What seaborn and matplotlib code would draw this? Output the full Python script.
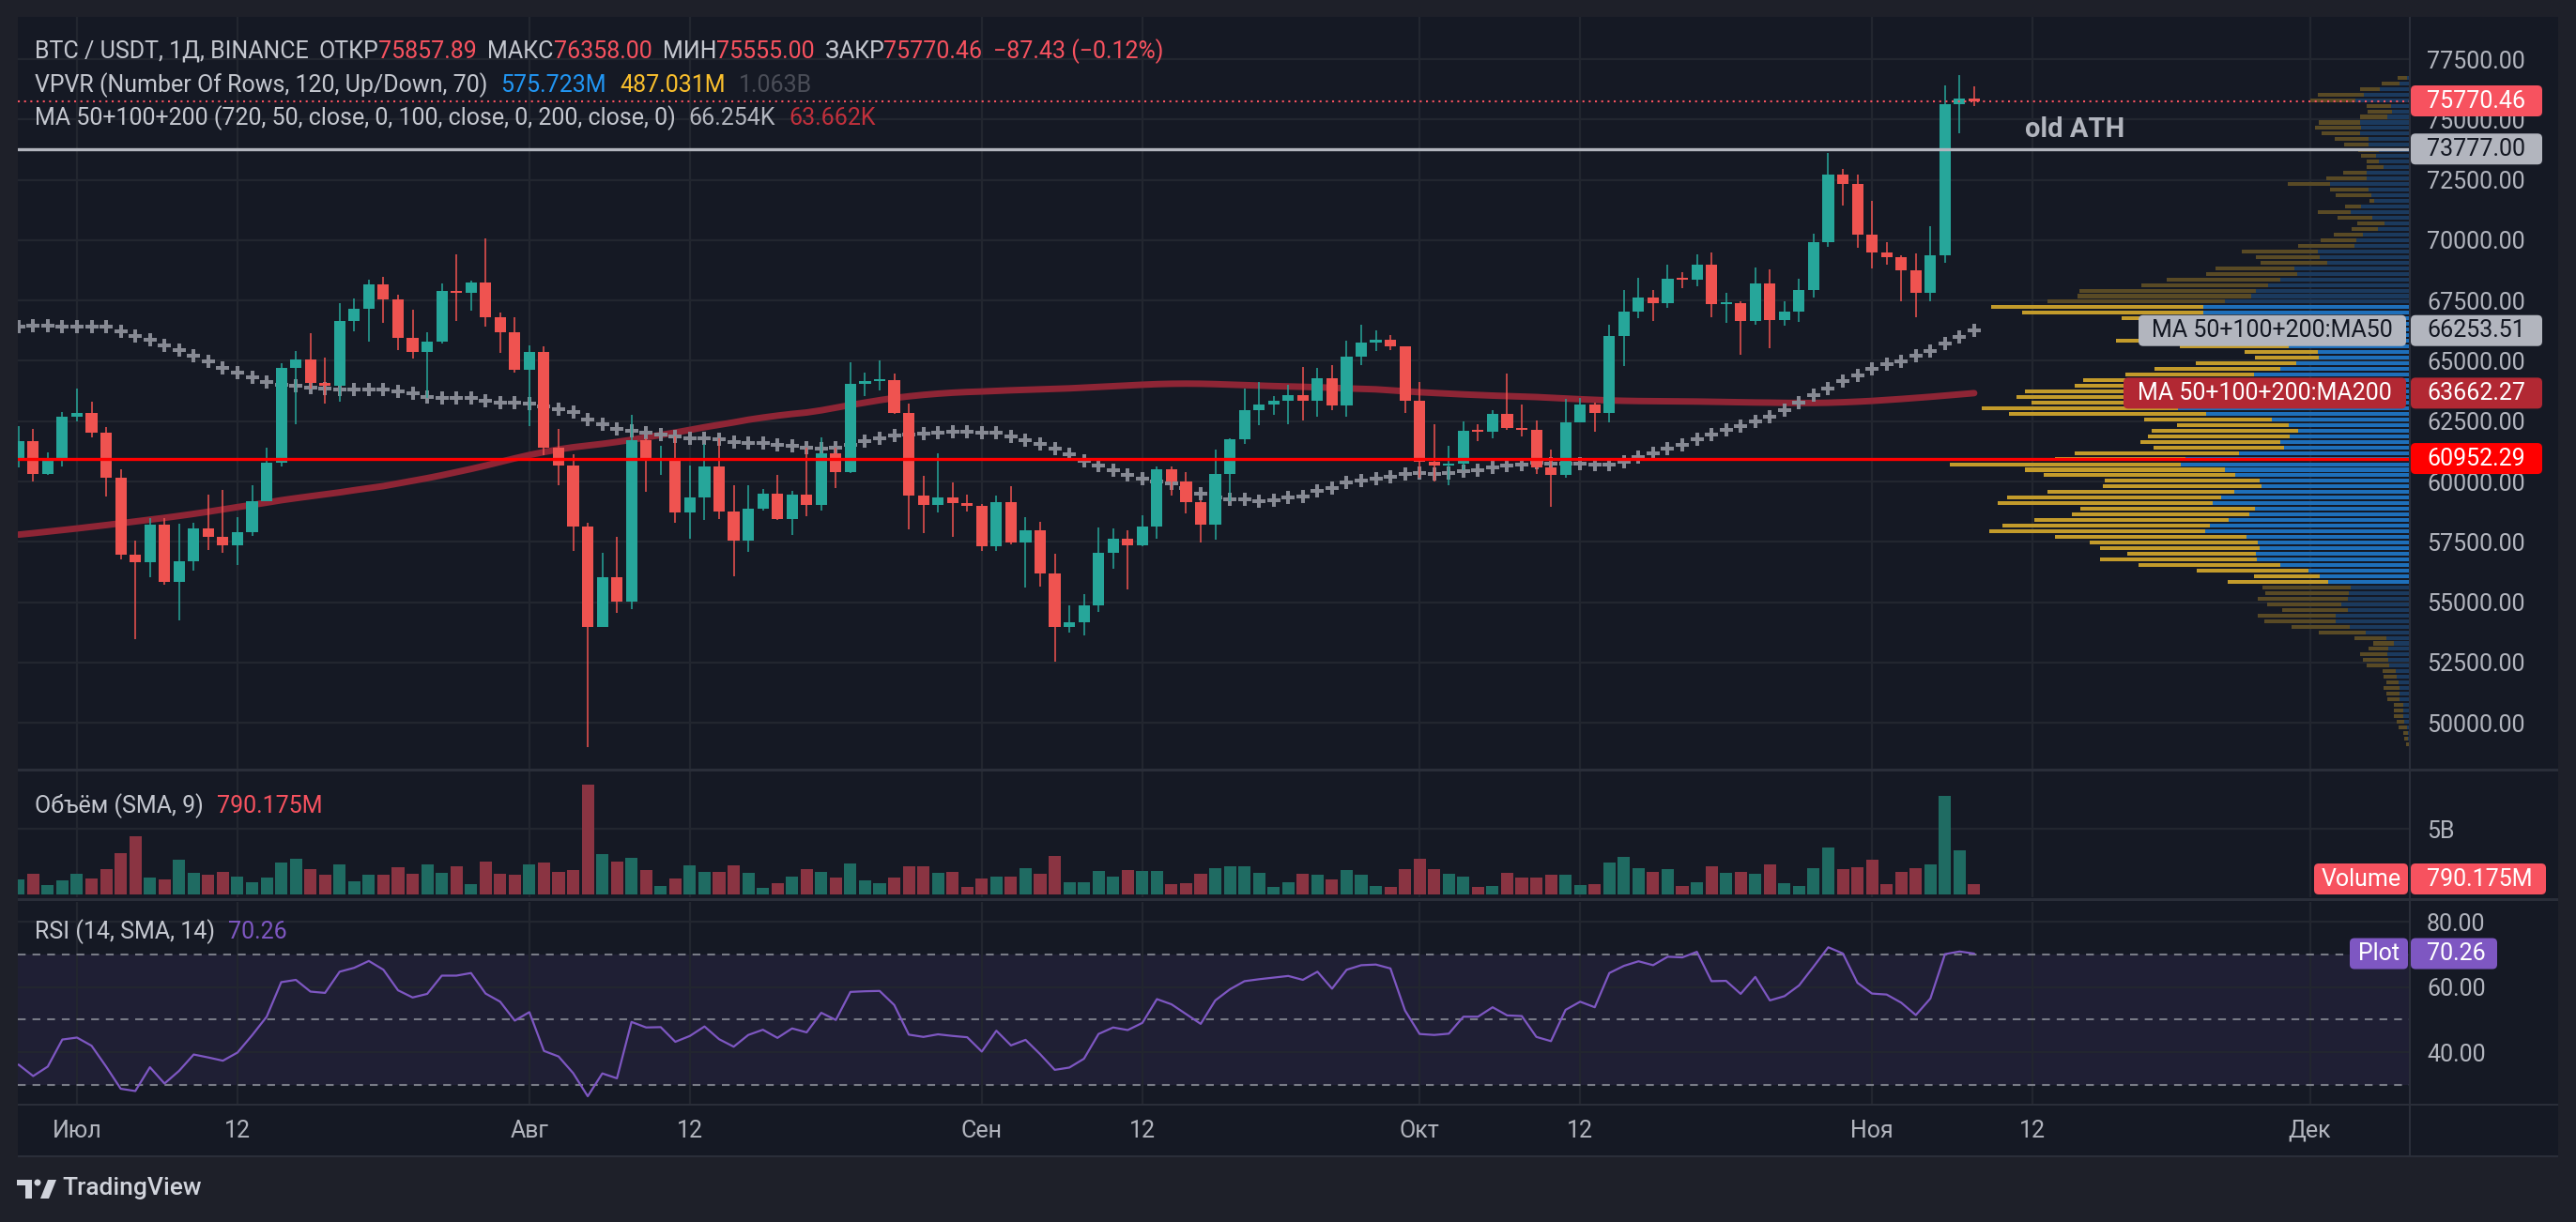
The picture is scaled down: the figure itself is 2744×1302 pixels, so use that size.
import numpy as np
import pandas as pd
import matplotlib
matplotlib.use("Agg")
import matplotlib.pyplot as plt
import seaborn as sns
from matplotlib.patches import FancyBboxPatch, Rectangle, Circle, Polygon
from matplotlib.transforms import IdentityTransform

# ---------------- data (BTC/USDT daily, 27 Jun - 8 Nov 2024) ----------------
dates = pd.date_range("2024-06-27", "2024-11-08", freq="D")

open_ = [60842, 61677, 60320, 60887,
         62678, 62851, 62029, 60173, 56977, 56639, 58231, 55857, 56714, 58050, 57725, 57339, 57889, 59204, 60797, 64724,
         65043, 64087, 63987, 66660, 67139, 68165, 67532, 65936, 65372, 65777, 67912, 67813, 68255, 66819, 66201,
         64619, 65357, 61415, 60680, 58116, 53991, 56034, 55027, 61710, 60880, 60945, 58719, 59354, 60609, 58738,
         57560, 58874, 59491, 58427, 59438, 59013, 61156, 60375, 64037, 64157, 64220, 62834, 59415, 59034, 59359, 59123,
         58973, 57301, 59132, 57487, 57970, 56180, 53962, 54160, 54869, 57042, 57635, 57338, 58132, 60498, 59993,
         59132, 58213, 60309, 61759, 62947, 63201, 63348, 63578, 63339, 64262, 63152, 65173, 65769, 65858, 65602,
         63327, 60805, 60649, 60752, 62086, 62058, 62819, 62224, 62131, 60582, 60274, 62445, 63193, 62851, 66046,
         67042, 67612, 67399, 68418, 68362, 69001, 67367, 67380, 66653, 68198, 66698, 67041, 67938, 69907, 72720, 72339,
         70216, 69482, 69289, 68742, 67811, 69359, 75639, 75857.89]
high = [62293, 62173, 61226, 62892,
        63862, 63288, 62272, 60498, 57546, 58475, 58475, 58236, 58296, 59470, 59650, 58526, 59850, 61420, 64900, 65388,
        66128, 65133, 67386, 67598, 68366, 68474, 67750, 67102, 66175, 68200, 69399, 68318, 70079, 66987, 66810,
        65659, 65596, 62198, 61117, 58305, 57059, 57726, 62745, 61800, 61464, 61858, 60680, 61572, 61800, 59849,
        59850, 59700, 60284, 59617, 61400, 61820, 61400, 64955, 64494, 65000, 64481, 63212, 60234, 61166, 59944, 59462,
        59054, 59425, 59809, 58519, 58327, 57008, 54850, 55318, 58088, 58044, 57981, 58588, 60625, 60610, 60395,
        59210, 61320, 61786, 63850, 64133, 63559, 64000, 64745, 64688, 64817, 65839, 66498, 66260, 66076, 65618,
        64130, 62390, 61477, 62484, 62370, 62975, 64478, 63200, 62543, 61320, 63417, 63480, 63285, 66500, 67950,
        68424, 67939, 68969, 68668, 69400, 69500, 67836, 67451, 68850, 68771, 67454, 68388, 70270, 73620, 72961, 72700,
        71632, 69914, 69390, 69432, 70577, 76400, 76849, 76358]
low = [60585, 60000, 60267, 60632,
       62497, 61818, 59386, 56771, 53485, 56018, 55724, 54260, 56289, 57157, 57050, 56542, 57756, 59194, 60632, 62373,
       63854, 63238, 63300, 66222, 65777, 66559, 65441, 65111, 63456, 65722, 66640, 67066, 66428, 65323, 64532,
       62302, 61100, 59850, 57122, 49000, 53973, 54558, 54730, 59575, 60288, 58286, 57642, 58400, 58433, 56078,
       57098, 58785, 58408, 57787, 58548, 58783, 59724, 60342, 63531, 63773, 62800, 58034, 57860, 58713, 57701, 58744,
       57118, 57128, 57415, 55606, 55643, 52550, 53745, 53629, 54591, 56386, 55545, 57324, 57632, 59400, 58691,
       57493, 57610, 59175, 61555, 62350, 62758, 62357, 62538, 62700, 62947, 62670, 64819, 65422, 65432, 62856,
       60164, 60000, 59828, 60459, 61689, 61798, 62128, 61860, 60300, 58946, 60155, 62445, 62050, 62442, 64800,
       66750, 66666, 67177, 68020, 68100, 66800, 66571, 65260, 66510, 65521, 66439, 66600, 67618, 69730, 71436, 69685,
       68820, 69000, 67478, 66803, 67458, 69050, 74416, 75555]
close = [61677, 60320, 60887, 62678,
         62851, 62029, 60173, 56977, 56639, 58231, 55857, 56714, 58050, 57725, 57339, 57889, 59204, 60797, 64724, 65043,
         64087, 63987, 66660, 67139, 68165, 67532, 65936, 65372, 65777, 67912, 67813, 68255, 66819, 66201, 64619,
         65357, 61415, 60680, 58116, 53991, 56034, 55027, 61710, 60880, 60945, 58719, 59354, 60609, 58738, 57560,
         58874, 59491, 58427, 59438, 59013, 61156, 60375, 64037, 64157, 64220, 62834, 59415, 59034, 59359, 59123, 58973,
         57301, 59132, 57487, 57970, 56180, 53962, 54160, 54869, 57042, 57635, 57338, 58132, 60498, 59993, 59132,
         58213, 60309, 61759, 62947, 63201, 63348, 63578, 63339, 64262, 63152, 65173, 65769, 65858, 65602, 63327,
         60805, 60649, 60752, 62086, 62058, 62819, 62224, 62131, 60582, 60274, 62445, 63193, 62851, 66046, 67042,
         67612, 67399, 68418, 68362, 69001, 67367, 67380, 66653, 68198, 66698, 67041, 67938, 69907, 72720, 72339, 70216,
         69482, 69289, 68742, 67811, 69359, 75639, 75857.89, 75770.46]

# volume, billions USDT
volume_b = [1.19, 1.60, 0.74, 1.10,
            1.60, 1.24, 1.95, 3.17, 4.45, 1.31, 1.17, 2.67, 1.67, 1.52, 1.74, 1.38, 0.95, 1.31, 2.45, 2.74,
            1.95, 1.52, 2.31, 1.02, 1.52, 1.52, 2.10, 1.60, 2.31, 1.67, 2.17, 0.81, 2.52, 1.60, 1.52,
            2.31, 2.45, 1.74, 1.88, 8.38, 3.10, 2.52, 2.81, 1.88, 0.67, 1.24, 2.24, 1.74, 1.74, 2.24,
            1.67, 0.52, 0.88, 1.38, 1.95, 1.74, 1.31, 2.38, 1.10, 0.88, 1.31, 2.17, 2.17, 1.67, 1.74, 0.60,
            1.24, 1.38, 1.38, 2.02, 1.60, 2.95, 0.95, 0.95, 1.81, 1.38, 1.88, 1.81, 1.81, 0.81, 0.88,
            1.60, 2.02, 2.17, 2.17, 1.67, 0.60, 0.95, 1.60, 1.52, 1.17, 1.88, 1.52, 0.67, 0.60, 1.95,
            2.74, 1.95, 1.60, 1.38, 0.60, 0.67, 1.67, 1.31, 1.31, 1.52, 1.52, 0.74, 0.81, 2.45, 2.88,
            2.02, 1.74, 1.95, 0.67, 0.95, 2.17, 1.67, 1.74, 1.60, 2.31, 0.88, 0.67, 2.02, 3.60, 1.95, 2.10,
            2.67, 0.81, 1.74, 2.02, 2.31, 7.52, 3.38, 0.79]

ma50 = [66435, 66440, 66440, 66435,
        66435, 66430, 66409, 66240, 66045, 65890, 65656, 65461, 65201, 64968, 64721, 64526, 64331, 64136, 63993, 63968,
        63903, 63864, 63812, 63799, 63799, 63799, 63747, 63643, 63513, 63474, 63448, 63448, 63357, 63270, 63260,
        63240, 63125, 63008, 62864, 62578, 62370, 62187, 62096, 62031, 61953, 61875, 61797, 61797, 61745, 61628,
        61588, 61588, 61510, 61471, 61406, 61367, 61406, 61536, 61666, 61797, 61901, 61953, 61980, 62020, 62059, 62059,
        62020, 62020, 61852, 61696, 61554, 61360, 61140, 60855, 60648, 60466, 60272, 60104, 60020, 59909, 59715,
        59495, 59353, 59262, 59262, 59171, 59223, 59327, 59378, 59612, 59715, 59974, 60039, 60130, 60215, 60305,
        60340, 60326, 60352, 60430, 60482, 60587, 60652, 60717, 60782, 60756, 60756, 60743, 60717, 60717, 60821,
        61004, 61173, 61368, 61524, 61759, 61954, 62123, 62279, 62500, 62696, 62956, 63256, 63581, 63868, 64167, 64402,
        64649, 64844, 64988, 65209, 65404, 65704, 65990, 66254]

ma200 = [57800, 57860, 57925, 57990,
         58055, 58125, 58195, 58270, 58345, 58420, 58495, 58575, 58660, 58750, 58845, 58940, 59030, 59125, 59225, 59310,
         59390, 59470, 59550, 59640, 59725, 59810, 59920, 60030, 60140, 60260, 60390, 60520, 60660, 60810, 60960,
         61100, 61220, 61330, 61420, 61490, 61560, 61640, 61730, 61830, 61930, 62030, 62140, 62250, 62350, 62450,
         62560, 62650, 62730, 62800, 62860, 62950, 63060, 63170, 63270, 63370, 63460, 63530, 63590, 63640, 63680, 63710,
         63730, 63755, 63780, 63800, 63820, 63840, 63860, 63890, 63920, 63950, 63980, 64010, 64035, 64050, 64055,
         64050, 64035, 64015, 63995, 63975, 63955, 63940, 63925, 63905, 63885, 63860, 63840, 63820, 63780, 63740,
         63700, 63670, 63640, 63610, 63585, 63560, 63540, 63520, 63500, 63470, 63440, 63410, 63385, 63360, 63345,
         63335, 63330, 63325, 63320, 63315, 63305, 63295, 63285, 63275, 63270, 63260, 63255, 63255, 63265, 63285, 63310,
         63340, 63380, 63420, 63465, 63510, 63560, 63610, 63662.27]

rsi = [36.2, 32.7, 35.6, 43.9,
       44.5, 42.0, 35.6, 28.8, 28.1, 35.4, 30.4, 34.3, 39.3, 38.4, 37.4, 39.9, 45.2, 50.9, 61.5, 62.2,
       58.6, 58.2, 64.7, 65.9, 68.0, 65.3, 59.0, 56.8, 57.9, 63.5, 63.5, 64.3, 58.0, 55.5, 49.7,
       52.3, 40.4, 38.7, 33.6, 26.5, 33.5, 32.0, 49.3, 47.6, 47.7, 43.2, 45.0, 47.9, 44.0, 41.7,
       45.3, 46.9, 44.4, 47.3, 46.1, 52.1, 49.9, 58.5, 58.7, 58.8, 54.5, 45.4, 44.7, 45.5, 45.0, 44.6,
       40.2, 46.6, 42.1, 43.8, 39.4, 34.6, 35.3, 38.0, 45.6, 47.6, 46.8, 49.0, 56.3, 54.7, 51.7,
       48.7, 55.9, 59.3, 61.8, 62.4, 62.9, 63.4, 62.2, 64.7, 59.5, 65.3, 66.7, 66.9, 65.7, 52.8,
       45.6, 45.3, 45.7, 50.9, 50.9, 53.8, 51.3, 51.1, 44.7, 43.4, 53.0, 55.5, 53.8, 64.3, 66.5,
       67.9, 66.7, 69.3, 69.1, 70.8, 61.8, 61.9, 57.9, 63.1, 55.9, 57.2, 60.5, 66.3, 72.2, 70.3, 61.3,
       58.0, 57.7, 55.2, 51.4, 56.5, 70.1, 70.9, 70.26]

# visible-range volume profile, 120 rows, highest price row first (millions USDT)
vp_up = [35, 109, 319, 494, 575.7, 197, 188, 240, 533, 524,
         533, 437, 445, 328, 358, 328, 284, 459, 459, 852,
         437, 415, 384, 524, 633, 402, 271, 341, 502, 568,
         590, 983, 961, 882, 1232, 1201, 1376, 1507, 1638, 1690,
         1974, 2205, 2205, 2030, 1943, 1681, 1769, 2030, 1288, 983,
         969, 1214, 1376, 1659, 2120, 2030, 2293, 2293, 2249, 2467,
         2170, 1472, 1288, 1188, 1280, 1384, 1345, 1825, 2389, 2437,
         1974, 1865, 1603, 1585, 1873, 2009, 2105, 1655, 1712, 1935,
         2131, 2184, 1742, 1616, 1603, 1638, 1633, 1384, 1083, 961,
         873, 633, 646, 664, 734, 664, 786, 795, 642, 467,
         253, 175, 231, 240, 227, 218, 153, 140, 118, 109,
         109, 109, 66, 74, 66, 57, 35, 22, 22, 13]
vp_down = [96, 188, 214, 489, 487.0, 262, 258, 293, 437, 489,
           406, 362, 253, 218, 166, 131, 175, 249, 428, 450,
           415, 371, 44, 166, 349, 371, 288, 284, 306, 380,
           598, 808, 677, 712, 843, 969, 1214, 1354, 1887, 1847,
           1891, 2253, 1921, 1044, 699, 786, 786, 1105, 1162, 773,
           681, 1066, 1349, 1367, 1358, 1537, 1812, 1900, 1777, 2092,
           2096, 1354, 1188, 1559, 1515, 1489, 1384, 1742, 1389, 2459,
           2122, 2039, 1651, 1681, 1987, 2280, 2284, 1860, 1891, 2070,
           2205, 2301, 2035, 1799, 1694, 1376, 1664, 1511, 1183, 703,
           1070, 939, 895, 961, 782, 699, 830, 755, 620, 502,
           336, 218, 205, 293, 275, 240, 140, 144, 131, 175,
           144, 131, 100, 100, 105, 87, 87, 44, 35, 31]

tick_dates = ["2024-07-01", "2024-07-12", "2024-08-01", "2024-08-12", "2024-09-01", "2024-09-12",
              "2024-10-01", "2024-10-12", "2024-11-01", "2024-11-12", "2024-12-01"]
tick_labels = ["Июл", "12", "Авг", "12", "Сен", "12", "Окт", "12", "Ноя", "12", "Дек"]
price_ticks = list(range(50000, 77501, 2500))

support_level = 60952.29
old_ath = 73777.00

# ---------------- style ----------------
W, H = 2744, 1302
BG = "#151924"
OUTER = "#1e2029"
SEP = "#2a2e39"
GRID = "#22262f"
AXTXT = "#b2b5be"
LEG = "#c4c7cf"
UP, DN = "#26a69a", "#ef5350"
FS = 18

sns.set_theme(style="dark", rc={"axes.facecolor": BG, "figure.facecolor": OUTER})
plt.rcParams["font.family"] = ["Roboto", "DejaVu Sans"]

fig = plt.figure(figsize=(W / 100, H / 100), dpi=100, facecolor=OUTER)
PX = IdentityTransform()


def px_axes(left, top, right, bottom):
    return fig.add_axes([left / W, 1 - bottom / H, (right - left) / W, (bottom - top) / H])


def px_rect(left, top, right, bottom, color, z=1):
    fig.add_artist(Rectangle((left, H - bottom), right - left, bottom - top, transform=PX,
                             facecolor=color, edgecolor="none", zorder=z))


px_rect(19, 18, 2725, 1232, BG, z=-10)
ax = px_axes(19, 18, 2567, 819)
axv = px_axes(19, 822, 2567, 956)
axr = px_axes(19, 961, 2567, 1176)
axt = px_axes(19, 1178, 2567, 1231)

idx = np.arange(len(dates))
XLIM = (-0.05, 163.85)
tick_idx = [(pd.Timestamp(d) - dates[0]).days for d in tick_dates]

for a in (ax, axv, axr, axt):
    a.set_facecolor(BG)
    for sp in a.spines.values():
        sp.set_visible(False)
    a.set_xlim(*XLIM)
    a.set_axisbelow(True)
    a.yaxis.tick_right()
    a.set_xticks(tick_idx)
    a.tick_params(axis="x", length=0, labelbottom=False)
    a.tick_params(axis="y", length=0, pad=13, labelsize=FS, labelcolor=AXTXT)
for a in (ax, axv, axr):
    a.grid(True, color=GRID, linewidth=1.6)

# ---------------- price pane ----------------
o, h, l, c = map(np.asarray, (open_, high, low, close))
rising = c >= o
cols = np.where(rising, UP, DN)

ax.set_ylim(48102, 79251)
ax.set_yticks(price_ticks)
ax.set_yticklabels([f"{v:.2f}" for v in price_ticks])

sns.lineplot(x=idx, y=ma200, ax=ax, color="#8e2535", linewidth=5, zorder=2,
             legend=False, solid_capstyle="round")
sns.scatterplot(x=idx, y=ma50, ax=ax, marker="P", s=90, color="#868993",
                linewidth=0, zorder=3, legend=False)
ax.vlines(idx, l, h, colors=cols, linewidth=1.1, zorder=4)
ax.bar(idx, np.maximum(np.abs(c - o), 70), bottom=np.minimum(o, c), width=0.78,
       color=cols, linewidth=0, zorder=5)
ax.set_xlabel("")
ax.set_ylabel("")
ax.set_xlim(*XLIM)

ax.text(140.9, 74590, "old ATH", ha="center", va="center", fontsize=21,
        fontweight="bold", color=AXTXT, zorder=6)

# volume profile (visible range)
axp = ax.twiny()
up_v, dn_v = np.asarray(vp_up), np.asarray(vp_down)
tot = up_v + dn_v
n_rows = len(tot)
top, bot = h.max(), l.min()
step = (top - bot) / n_rows
centers = top - (np.arange(n_rows) + 0.5) * step
poc = int(np.argmax(tot))
lo_i = hi_i = poc
acc = tot[poc]
while acc < 0.70 * tot.sum():
    nxt_hi = tot[hi_i + 1] if hi_i + 1 < n_rows else -1
    nxt_lo = tot[lo_i - 1] if lo_i > 0 else -1
    if nxt_hi >= nxt_lo:
        hi_i += 1
        acc += nxt_hi
    else:
        lo_i -= 1
        acc += nxt_lo
in_va = (np.arange(n_rows) >= lo_i) & (np.arange(n_rows) <= hi_i)
axp.barh(centers, up_v, height=step * 0.68, left=0,
         color=np.where(in_va, "#1e6fba", "#1b3a5e"), linewidth=0, zorder=1)
axp.barh(centers, dn_v, height=step * 0.68, left=up_v,
         color=np.where(in_va, "#c39b2b", "#594a25"), linewidth=0, zorder=1)
axp.set_xlim(25480, 0)
axp.set_xticks([])
for sp in axp.spines.values():
    sp.set_visible(False)
axp.axhline(support_level, color="#ff0000", linewidth=2.4, zorder=6)
axp.axhline(old_ath, color="#b2b5be", linewidth=2.4, zorder=6)
axp.axhline(close[-1], color="#f7525f", linewidth=1.5, linestyle=(0, (1, 2.2)), zorder=6)

# ---------------- volume pane ----------------
axv.bar(idx, volume_b, width=0.84, color=np.where(rising, "#1f6b62", "#8a3442"), linewidth=0)
axv.set_ylim(-0.19, 9.38)
axv.set_yticks([5])
axv.set_yticklabels(["5B"])
axv.set_xlim(*XLIM)

# ---------------- RSI pane ----------------
axr.axhspan(30, 70, color="#7e57c2", alpha=0.1, linewidth=0, zorder=0)
for lv in (70, 50, 30):
    axr.axhline(lv, color="#787b86", linewidth=1.5, linestyle=(0, (4, 3.5)), zorder=1)
sns.lineplot(x=idx, y=rsi, ax=axr, color="#7e57c2", linewidth=1.6, legend=False, zorder=3)
axr.set_ylim(24.2, 86.1)
axr.set_yticks([40, 60, 80])
axr.set_yticklabels(["40.00", "60.00", "80.00"])
axr.set_xlabel("")
axr.set_ylabel("")
axr.set_xlim(*XLIM)

# ---------------- time axis ----------------
axt.set_yticks([])
for ti, lab in zip(tick_idx, tick_labels):
    axt.text(ti, 0.5, lab, transform=axt.get_xaxis_transform(), ha="center", va="center",
             fontsize=FS, color=AXTXT)

# pane separators
px_rect(2566, 18, 2568, 1232, SEP)
px_rect(19, 819, 2725, 822, SEP)
px_rect(19, 957, 2725, 960, SEP)
px_rect(19, 1176, 2725, 1178, SEP)
px_rect(19, 1231, 2725, 1233, SEP)

# ---------------- legends ----------------
renderer = fig.canvas.get_renderer()


def text_run(x, y, parts, size=FS):
    for txt, color, gap in parts:
        t = fig.text(x, H - y, txt, color=color, fontsize=size, ha="left", va="center",
                     transform=PX, zorder=4)
        x = t.get_window_extent(renderer=renderer).x1 + gap


RED = "#f7525f"
text_run(37, 55, [("BTC / USDT, 1Д, BINANCE", LEG, 11), ("ОТКР", LEG, 0), (f"{open_[-1]:.2f}", RED, 11),
                  ("МАКС", LEG, 0), (f"{high[-1]:.2f}", RED, 11), ("МИН", LEG, 0), (f"{low[-1]:.2f}", RED, 11),
                  ("ЗАКР", LEG, 0), (f"{close[-1]:.2f}", RED, 11),
                  ("\u221287.43 (\u22120.12%)", RED, 0)])
text_run(37, 91, [("VPVR (Number Of Rows, 120, Up/Down, 70)", LEG, 14), ("575.723M", "#2196f3", 14),
                  ("487.031M", "#fbc02d", 14), ("1.063B", "#4a4d57", 0)])
text_run(37, 126, [("MA 50+100+200 (720, 50, close, 0, 100, close, 0, 200, close, 0)", LEG, 14),
                   ("66.254K", AXTXT, 14), ("63.662K", "#c0303c", 0)])
text_run(37, 859, [("Объём (SMA, 9)", LEG, 14), ("790.175M", RED, 0)])
text_run(37, 993, [("RSI (14, SMA, 14)", LEG, 14), ("70.26", "#7e57c2", 0)])


# ---------------- axis tags ----------------
def tag(x0, x1, yc, label, bg, fg, centered=False, hh=33):
    fig.add_artist(FancyBboxPatch((x0, yc - hh / 2), x1 - x0, hh, boxstyle="round,pad=0,rounding_size=5",
                                  transform=PX, facecolor=bg, edgecolor="none", zorder=2))
    if centered:
        fig.text((x0 + x1) / 2, yc, label, color=fg, fontsize=FS, ha="center", va="center",
                 transform=PX, zorder=3)
    else:
        fig.text(2585, yc, label, color=fg, fontsize=FS, ha="left", va="center", transform=PX, zorder=3)


def price_y(a, v):
    return a.transData.transform((0, v))[1]


tag(2568, 2708, price_y(ax, close[-1]), f"{close[-1]:.2f}", RED, "white")
tag(2568, 2708, price_y(ax, old_ath), f"{old_ath:.2f}", "#b2b5be", "#131722")
y50 = price_y(ax, 66253.51)
tag(2278, 2563, y50, "MA 50+100+200:MA50", "#b2b5be", "#131722", centered=True)
tag(2568, 2708, y50, "66253.51", "#b2b5be", "#131722")
y200 = price_y(ax, ma200[-1])
tag(2262, 2563, y200, "MA 50+100+200:MA200", "#b22833", "white", centered=True)
tag(2568, 2708, y200, f"{ma200[-1]:.2f}", "#b22833", "white")
tag(2568, 2708, price_y(ax, support_level), f"{support_level:.2f}", "#ff0000", "white")

yv = max(price_y(axv, volume_b[-1]), (H - 956) + 3 + 16.5)
tag(2465, 2565, yv, "Volume", RED, "white", centered=True)
tag(2568, 2712, yv, "790.175M", RED, "white")
yr = price_y(axr, rsi[-1])
tag(2503, 2565, yr, "Plot", "#7e57c2", "white", centered=True)
tag(2568, 2660, yr, f"{rsi[-1]:.2f}", "#7e57c2", "white")

# ---------------- TradingView mark ----------------
LOGO = "#d1d4dc"
px_rect(18, 1257, 34, 1263, LOGO, z=4)
px_rect(27, 1257, 34, 1277, LOGO, z=4)
fig.add_artist(Circle((40, H - 1260), 3.5, transform=PX, facecolor=LOGO, edgecolor="none", zorder=4))
fig.add_artist(Polygon([(43, H - 1277), (51, H - 1257), (60, H - 1257), (52, H - 1277)], closed=True,
                       transform=PX, facecolor=LOGO, edgecolor="none", zorder=4))
fig.text(66, H - 1266, "TradingView", fontsize=19, color=LOGO, ha="left", va="center",
         fontweight="medium", transform=PX, zorder=4)

fig.savefig("out.png", dpi=100, facecolor=fig.get_facecolor())
